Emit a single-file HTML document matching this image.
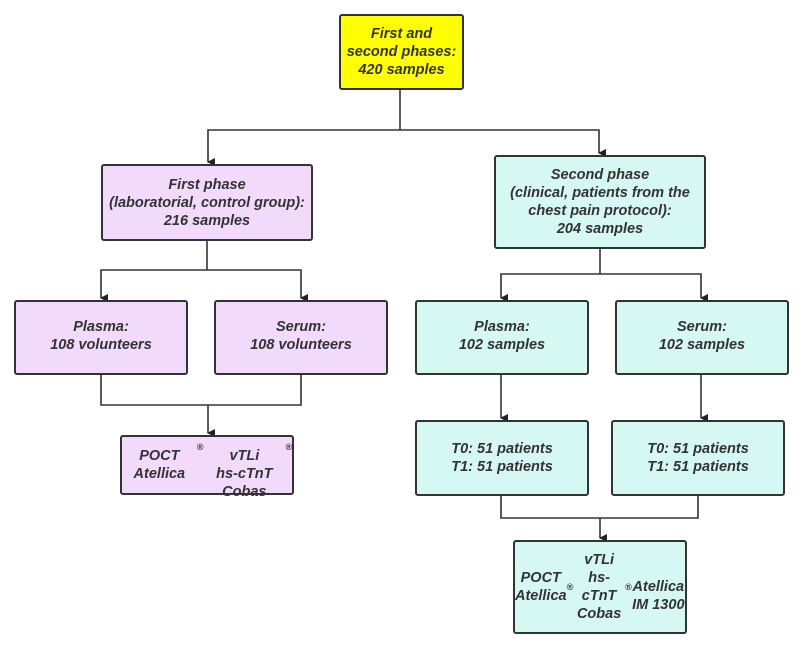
<!DOCTYPE html>
<html><head><meta charset="utf-8"><style>
body{margin:0;width:800px;height:649px;background:#fff;position:relative;font-family:"Liberation Sans",sans-serif;}
.b{position:absolute;box-sizing:border-box;border:2px solid #333;border-radius:3px;display:flex;align-items:center;justify-content:center;text-align:center;font-style:italic;font-weight:bold;font-size:14.5px;line-height:18px;color:#333;}
.y{background:#ffff00}.p{background:#f2dafb}.c{background:#d6f8f2}
sup{font-size:9px;line-height:0}
svg{position:absolute;left:0;top:0}
</style></head><body>
<svg width="800" height="649">
<defs><marker id="a" markerWidth="8" markerHeight="8" refX="4" refY="7" orient="auto" markerUnits="userSpaceOnUse"><path d="M0,0 L8,0 L4,8 z" fill="#222"/></marker></defs>
<g stroke="#333" stroke-width="1.6" fill="none">
<path d="M400,89 V130"/>
<path d="M400,130 H208 V162" marker-end="url(#a)"/>
<path d="M400,130 H599 V153" marker-end="url(#a)"/>
<path d="M207,241 V270"/>
<path d="M207,270 H101 V298" marker-end="url(#a)"/>
<path d="M207,270 H301 V298" marker-end="url(#a)"/>
<path d="M600,249 V274"/>
<path d="M600,274 H501 V298" marker-end="url(#a)"/>
<path d="M600,274 H701 V298" marker-end="url(#a)"/>
<path d="M101,375 V405 H301 V375"/>
<path d="M208,405 V433" marker-end="url(#a)"/>
<path d="M501,375 V418" marker-end="url(#a)"/>
<path d="M701,375 V418" marker-end="url(#a)"/>
<path d="M501,496 V518 H698 V496"/>
<path d="M600,518 V538" marker-end="url(#a)"/>
</g></svg>
<div class="b y" style="left:339px;top:14px;width:125px;height:76px">First and<br>second phases:<br>420 samples</div>
<div class="b p" style="left:101px;top:164px;width:212px;height:77px">First phase<br>(laboratorial, control group):<br>216 samples</div>
<div class="b c" style="left:494px;top:155px;width:212px;height:94px">Second phase<br>(clinical, patients from the<br>chest pain protocol):<br>204 samples</div>
<div class="b p" style="left:14px;top:300px;width:174px;height:75px;align-items:flex-start;padding-top:16px">Plasma:<br>108 volunteers</div>
<div class="b p" style="left:214px;top:300px;width:174px;height:75px;align-items:flex-start;padding-top:16px">Serum:<br>108 volunteers</div>
<div class="b c" style="left:415px;top:300px;width:174px;height:75px;align-items:flex-start;padding-top:16px">Plasma:<br>102 samples</div>
<div class="b c" style="left:615px;top:300px;width:174px;height:75px;align-items:flex-start;padding-top:16px">Serum:<br>102 samples</div>
<div class="b p" style="left:120px;top:435px;width:174px;height:60px;align-items:flex-start;padding-top:10px">POCT Atellica<sup>®</sup>vTLi<br>hs-cTnT Cobas<sup>®</sup></div>
<div class="b c" style="left:415px;top:420px;width:174px;height:76px">T0: 51 patients<br>T1: 51 patients</div>
<div class="b c" style="left:611px;top:420px;width:174px;height:76px">T0: 51 patients<br>T1: 51 patients</div>
<div class="b c" style="left:513px;top:540px;width:174px;height:94px">POCT Atellica<sup>®</sup>vTLi<br>hs-cTnT Cobas<sup>®</sup><br>Atellica IM 1300</div>
</body></html>
